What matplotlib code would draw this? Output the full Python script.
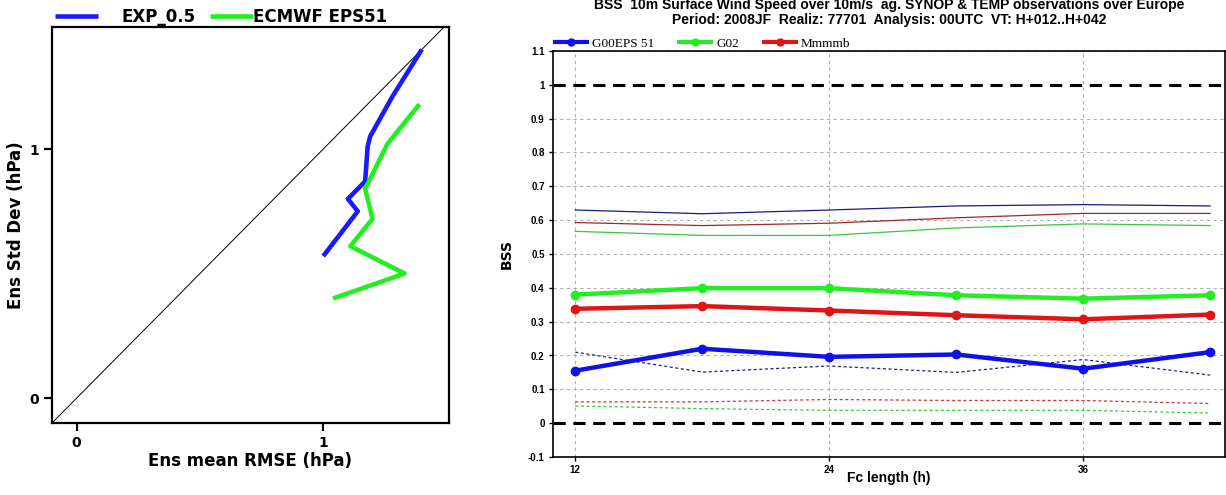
import matplotlib
matplotlib.use("Agg")
import matplotlib.pyplot as plt
from matplotlib import font_manager
from matplotlib.lines import Line2D

# ---------------- data ----------------
# left panel: spread vs skill
exp_rmse = [1.00, 1.14, 1.10, 1.17, 1.18, 1.19, 1.28, 1.40]
exp_std = [0.57, 0.75, 0.80, 0.87, 1.01, 1.05, 1.21, 1.40]
ecm_rmse = [1.04, 1.33, 1.11, 1.20, 1.17, 1.26, 1.39]
ecm_std = [0.40, 0.50, 0.61, 0.72, 0.84, 1.02, 1.18]
left_ticks = [0, 1]

# right panel: BSS vs forecast length
fc_hours = [12, 18, 24, 30, 36, 42]
g00_bss = [0.155, 0.220, 0.196, 0.203, 0.161, 0.210]
g02_bss = [0.380, 0.399, 0.399, 0.378, 0.368, 0.378]
mmm_bss = [0.338, 0.346, 0.333, 0.319, 0.307, 0.321]
g00_upper = [0.630, 0.619, 0.630, 0.642, 0.646, 0.642]
mmm_upper = [0.593, 0.584, 0.591, 0.607, 0.620, 0.620]
g02_upper = [0.567, 0.555, 0.555, 0.577, 0.589, 0.584]
g00_lower = [0.210, 0.151, 0.169, 0.150, 0.188, 0.142]
mmm_lower = [0.063, 0.063, 0.070, 0.067, 0.067, 0.058]
g02_lower = [0.051, 0.043, 0.038, 0.038, 0.038, 0.030]
bss_ticks = [-0.1, 0, 0.1, 0.2, 0.3, 0.4, 0.5, 0.6, 0.7, 0.8, 0.9, 1, 1.1]
bss_ticklabels = ["-0.1", "0", "0.1", "0.2", "0.3", "0.4", "0.5", "0.6",
                  "0.7", "0.8", "0.9", "1", "1.1"]
fc_ticks = [12, 24, 36]
ref_lines = [0, 1]

# ---------------- fonts ----------------
names = {f.name for f in font_manager.fontManager.ttflist}
narrow = "Liberation Sans Narrow" if "Liberation Sans Narrow" in names else "Liberation Sans"
serif = "Liberation Serif" if "Liberation Serif" in names else "DejaVu Serif"

fig = plt.figure(figsize=(12.26, 4.95), dpi=100)

# ---------------- left panel ----------------
axl = fig.add_axes([52 / 1226, 1 - 423 / 495, 397 / 1226, 396 / 495])
axl.set_xlim(-0.10, 1.51)
axl.set_ylim(-0.10, 1.49)
axl.plot([-0.1, 1.6], [-0.1, 1.6], color="black", lw=0.7)
l1, = axl.plot(exp_rmse, exp_std, color="#1a1aff", lw=3.3, solid_capstyle="butt")
l2, = axl.plot(ecm_rmse, ecm_std, color="#22ee22", lw=3.3, solid_capstyle="butt")
for s in axl.spines.values():
    s.set_linewidth(1.6)
axl.set_xticks(left_ticks)
axl.set_yticks(left_ticks)
axl.tick_params(direction="out", length=6, width=1.6, labelsize=10)
for t in axl.get_xticklabels() + axl.get_yticklabels():
    t.set_fontweight("bold")
axl.set_xlabel("Ens mean RMSE (hPa)", fontsize=12, fontweight="bold", labelpad=1)
axl.set_ylabel("Ens Std Dev (hPa)", fontsize=12, fontweight="bold", labelpad=3)

leg1 = axl.legend([l1], ["EXP_0.5"], loc="lower left", bbox_to_anchor=(-0.01, 0.985),
                  frameon=False, handlelength=2.6, handletextpad=1.4, borderaxespad=0,
                  prop=dict(size=12, weight="bold"))
axl.add_artist(leg1)
axl.legend([l2], ["ECMWF EPS51"], loc="lower left", bbox_to_anchor=(0.38, 0.985),
           frameon=False, handlelength=2.6, handletextpad=0.0, borderaxespad=0,
           prop=dict(size=12, weight="bold"))

# ---------------- right panel ----------------
axr = fig.add_axes([553 / 1226, 1 - 457 / 495, 672 / 1226, 406 / 495])
axr.set_xlim(10.95, 42.7)
axr.set_ylim(-0.1, 1.1)
for y in bss_ticks:
    if y not in ref_lines:
        axr.axhline(y, color="#b0b0b0", lw=0.8, dashes=(3, 3), zorder=1)
for x in fc_ticks:
    axr.axvline(x, color="#b0b0b0", lw=0.8, dashes=(3, 3), zorder=1)
for y in ref_lines:
    axr.axhline(y, color="black", lw=2.2, dashes=(4, 2.5), zorder=2)

axr.plot(fc_hours, g00_upper, color="#1c1c80", lw=0.9, zorder=3)
axr.plot(fc_hours, mmm_upper, color="#a02828", lw=0.9, zorder=3)
axr.plot(fc_hours, g02_upper, color="#3cc83c", lw=0.9, zorder=3)
axr.plot(fc_hours, g00_lower, color="#22228a", lw=0.9, dashes=(2.5, 2), zorder=3)
axr.plot(fc_hours, mmm_lower, color="#d03a3a", lw=0.9, dashes=(2.5, 2), zorder=3)
axr.plot(fc_hours, g02_lower, color="#3cc83c", lw=0.9, dashes=(2.5, 2), zorder=3)

h1, = axr.plot(fc_hours, g00_bss, color="#1010e8", lw=3.2, marker="o", ms=6, zorder=4)
h2, = axr.plot(fc_hours, g02_bss, color="#22ee22", lw=3.2, marker="o", ms=6, zorder=4)
h3, = axr.plot(fc_hours, mmm_bss, color="#e01414", lw=3.2, marker="o", ms=6, zorder=4)

axr.set_yticks(bss_ticks)
axr.set_yticklabels(bss_ticklabels)
axr.set_xticks(fc_ticks)
axr.tick_params(direction="out", length=3, width=1.0, labelsize=7, pad=3)
for t in axr.get_xticklabels() + axr.get_yticklabels():
    t.set_fontweight("bold")
    t.set_family(narrow)
for s in axr.spines.values():
    s.set_linewidth(1.2)
axr.set_ylabel("BSS", fontsize=10, fontweight="bold", labelpad=10)
axr.set_xlabel("Fc length (h)", fontsize=10, fontweight="bold", family=narrow, labelpad=-3)

hl = [Line2D([], [], color=c, lw=3, marker="o", ms=5) for c in ("#1010e8", "#22ee22", "#e01414")]
axr.legend(hl, ["G00EPS 51", "G02", "Mmmmb"], loc="lower left", bbox_to_anchor=(-0.005, 0.99),
           ncol=3, frameon=False, handlelength=2.4, handletextpad=0.4, columnspacing=1.9,
           borderaxespad=0, prop=dict(family=serif, size=9.5))

fig.text(889 / 1226, 1 - 5 / 495,
         "BSS  10m Surface Wind Speed over 10m/s  ag. SYNOP & TEMP observations over Europe",
         ha="center", va="center", fontsize=10, fontweight="bold", family=narrow)
fig.text(889 / 1226, 1 - 20 / 495,
         "Period: 2008JF  Realiz: 77701  Analysis: 00UTC  VT: H+012..H+042",
         ha="center", va="center", fontsize=10, fontweight="bold", family=narrow)

fig.savefig("out.png", dpi=100)
